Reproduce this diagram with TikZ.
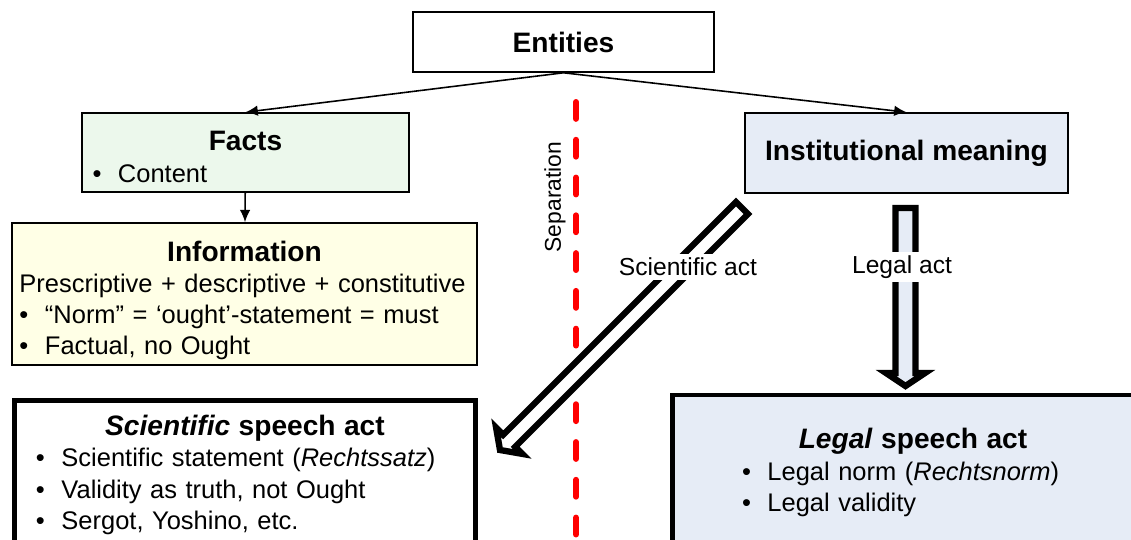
\documentclass[tikz,border=0pt]{standalone}
\usepackage{fontspec}
\setmainfont{Liberation Sans}
\usetikzlibrary{arrows.meta, calc, positioning}

\definecolor{factgreen}{RGB}{236,248,236}
\definecolor{infoyellow}{RGB}{255,255,230}
\definecolor{instblue}{RGB}{230,236,246}

\newcommand{\itm}{\makebox[1.0em][l]{\textbullet}}
\newcommand{\hdfont}{\fontsize{16}{19}\selectfont\bfseries}

\begin{document}
\begin{tikzpicture}[
    thinbox/.style={draw, line width=0.9pt, align=left, inner sep=0pt, font=\fontsize{14.5}{17.8}\selectfont},
    thickbox/.style={thinbox, line width=2.8pt},
    link/.style={line width=0.9pt, -{Latex[length=7pt,width=6pt]}},
    blockarrow/.style={line width=3.6pt, line join=miter},
    actlabel/.style={fill=white, inner sep=2pt, font=\fontsize{14}{16}\selectfont}
]

\useasboundingbox (0,0) rectangle (22.62,-10.8);

% Separation line
\coordinate (sepTop) at (11.52,-2.04);
\coordinate (sepBot) at (11.52,-10.9);
\draw[red, line width=3.4pt, line cap=round, dash pattern=on 9.6pt off 11.9pt] (sepTop) -- (sepBot);
\node[rotate=90, font=\fontsize{13}{15}\selectfont] (sep) at (11.1,-3.94) {Separation};

% Top and the two branches
\node[thinbox, minimum width=6.02cm, minimum height=1.2cm, font=\hdfont] (entities) at (11.27,-0.84) {Entities};
\node[thinbox, fill=factgreen, text width=6.12cm, minimum width=6.54cm, minimum height=1.58cm] (facts) at (4.91,-3.05)
    {{\centering\hdfont\rule{0pt}{16pt}Facts\par}\itm Content};
\node[thinbox, fill=instblue, minimum width=6.46cm, minimum height=1.6cm, font=\hdfont] (inst) at (18.13,-3.06) {Institutional meaning};
\node[thinbox, fill=infoyellow, text width=9.0cm, minimum width=9.3cm, minimum height=2.84cm] (info) at (4.89,-5.88)
    {{\centering\hdfont\rule{0pt}{19pt}Information\par}
     Prescriptive + descriptive + constitutive\\
     \itm “Norm” = ‘ought’-statement = must\\
     \itm Factual, no Ought};

% Speech acts
\node[thickbox, text width=8.36cm, minimum width=9.22cm, minimum height=2.99cm] (sciact) at (4.9,-9.5)
    {{\centering\hdfont\textit{Scientific} speech act\par}
     \itm Scientific statement (\textit{Rechtssatz})\\
     \itm Validity as truth, not Ought\\
     \itm Sergot, Yoshino, etc.};
\node[thickbox, fill=instblue, text width=6.84cm, minimum width=9.62cm, minimum height=3.1cm] (legalact) at (18.26,-9.45)
    {{\centering\hdfont\textit{Legal} speech act\par}
     \itm Legal norm (\textit{Rechtsnorm})\\
     \itm Legal validity};

% Thin arrows
\draw[link] (entities.south) -- (facts.north);
\draw[link] (entities.south) -- (inst.north);
\draw[link] (facts) -- (info);

% Scientific act (hollow arrow)
\coordinate (sciTail) at (14.84,-4.16);
\coordinate (sciTip) at (10.0,-9.0);
\coordinate (sciBase) at ($(sciTip)!0.26cm!(sciTail)$);
\draw[blockarrow, fill=white] ($(sciTail)!0.17cm!90:(sciTip)$) -- ($(sciBase)!0.17cm!90:(sciTip)$)
    -- ($(sciBase)!0.37cm!90:(sciTip)$) -- (sciTip) -- ($(sciBase)!0.37cm!-90:(sciTip)$)
    -- ($(sciBase)!0.17cm!-90:(sciTip)$) -- ($(sciTail)!0.17cm!-90:(sciTip)$) -- cycle;

% Legal act (hollow arrow)
\coordinate (legTail) at (18.11,-4.16);
\coordinate (legTip) at (18.11,-7.72);
\coordinate (legBase) at ($(legTip)!0.26cm!(legTail)$);
\draw[blockarrow, fill=instblue] ($(legTail)!0.2cm!90:(legTip)$) -- ($(legBase)!0.2cm!90:(legTip)$)
    -- ($(legBase)!0.39cm!90:(legTip)$) -- (legTip) -- ($(legBase)!0.39cm!-90:(legTip)$)
    -- ($(legBase)!0.2cm!-90:(legTip)$) -- ($(legTail)!0.2cm!-90:(legTip)$) -- cycle;

\node[actlabel] (scilabel) at (13.76,-5.34) {Scientific act};
\node[actlabel] (leglabel) at (18.04,-5.34) {Legal act};

\end{tikzpicture}
\end{document}
